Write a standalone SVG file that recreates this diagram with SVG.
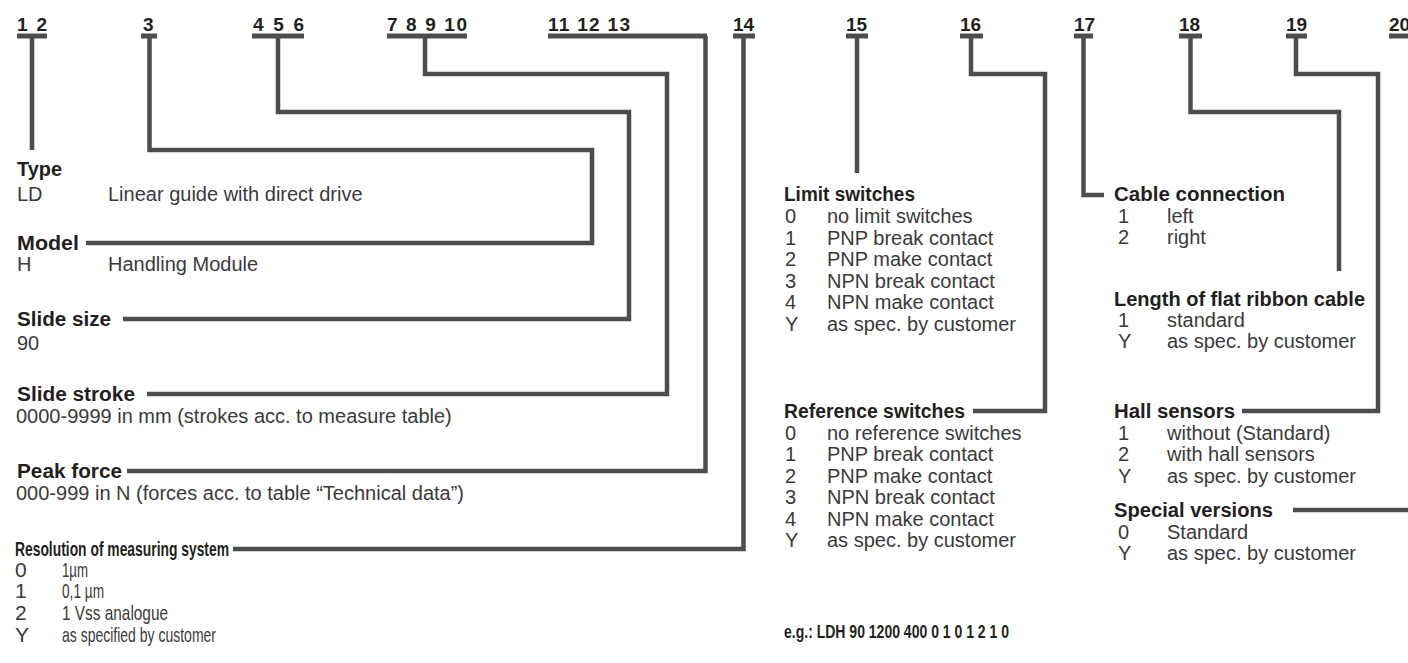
<svg xmlns="http://www.w3.org/2000/svg" width="1408" height="663" viewBox="0 0 1408 663">
<style>
.num{font-family:"Liberation Sans",Arial,sans-serif;font-weight:bold;font-size:19px;fill:#231f20}
.h{font-family:"Liberation Sans",Arial,sans-serif;font-weight:bold;font-size:20px;fill:#231f20}
.t{font-family:"Liberation Sans",Arial,sans-serif;font-size:20px;fill:#3a3a3a}
.c{font-family:"Liberation Sans",Arial,sans-serif;font-size:21px;fill:#3a3a3a}
.bar{stroke:#4d4d4d;stroke-width:5;fill:none}
.ln{stroke:#4d4d4d;stroke-width:4.5;fill:none;stroke-linejoin:miter;stroke-linecap:butt}
</style>
<rect width="1408" height="663" fill="#ffffff"/>

<g id="pos-1-2"><text class="num" x="17" y="31" textLength="30" lengthAdjust="spacing">1 2</text><line class="bar" x1="17" y1="36" x2="47" y2="36"/></g>
<g id="pos-3"><text class="num" x="143" y="31">3</text><line class="bar" x1="141" y1="36" x2="157" y2="36"/></g>
<g id="pos-4-5-6"><text class="num" x="253" y="31" textLength="51" lengthAdjust="spacing">4 5 6</text><line class="bar" x1="252" y1="36" x2="304" y2="36"/></g>
<g id="pos-7-10"><text class="num" x="387" y="31" textLength="80" lengthAdjust="spacing">7 8 9 10</text><line class="bar" x1="387" y1="36" x2="467" y2="36"/></g>
<g id="pos-11-13"><text class="num" x="548" y="31" textLength="82" lengthAdjust="spacing">11 12 13</text><line class="bar" x1="548" y1="36" x2="707" y2="36"/></g>
<g id="pos-14"><text class="num" x="733" y="31">14</text><line class="bar" x1="733" y1="36" x2="755" y2="36"/></g>
<g id="pos-15"><text class="num" x="846" y="31">15</text><line class="bar" x1="846" y1="36" x2="868" y2="36"/></g>
<g id="pos-16"><text class="num" x="960" y="31">16</text><line class="bar" x1="960" y1="36" x2="983" y2="36"/></g>
<g id="pos-17"><text class="num" x="1074" y="31">17</text><line class="bar" x1="1074" y1="36" x2="1093" y2="36"/></g>
<g id="pos-18"><text class="num" x="1179" y="31">18</text><line class="bar" x1="1179" y1="36" x2="1202" y2="36"/></g>
<g id="pos-19"><text class="num" x="1286" y="31">19</text><line class="bar" x1="1286" y1="36" x2="1307" y2="36"/></g>
<g id="pos-20"><text class="num" x="1389" y="31">20</text><line class="bar" x1="1389" y1="36" x2="1408" y2="36"/></g>

<g id="connectors">
<path class="ln" d="M32 36 V150"/>
<path class="ln" d="M149.5 36 V150 H592 V243 H86"/>
<path class="ln" d="M278 36 V112 H629 V319 H123"/>
<path class="ln" d="M425 36 V74 H667 V394 H147"/>
<path class="ln" d="M705.5 36 V471 H127"/>
<path class="ln" d="M743.5 36 V549 H233"/>
<path class="ln" d="M857 36 V173"/>
<path class="ln" d="M971 36 V74 H1045 V411 H973"/>
<path class="ln" d="M1083.5 36 V195 H1104"/>
<path class="ln" d="M1190.5 36 V112 H1339 V271"/>
<path class="ln" d="M1296 36 V74 H1378 V411 H1242"/>
<path class="ln" d="M1293 510 H1408"/>
</g>

<g id="type">
<text class="h" x="17" y="176" textLength="45" lengthAdjust="spacingAndGlyphs">Type</text>
<text class="t" x="17" y="201">LD</text><text class="t" x="108" y="201">Linear guide with direct drive</text>
</g>
<g id="model">
<text class="h" x="17" y="250" textLength="62" lengthAdjust="spacingAndGlyphs">Model</text>
<text class="t" x="17" y="271">H</text><text class="t" x="108" y="271">Handling Module</text>
</g>
<g id="slide-size">
<text class="h" x="17" y="326" textLength="94" lengthAdjust="spacingAndGlyphs">Slide size</text>
<text class="t" x="17" y="350">90</text>
</g>
<g id="slide-stroke">
<text class="h" x="17" y="401" textLength="118" lengthAdjust="spacingAndGlyphs">Slide stroke</text>
<text class="t" x="16" y="423">0000-9999 in mm (strokes acc. to measure table)</text>
</g>
<g id="peak-force">
<text class="h" x="17" y="478" textLength="105" lengthAdjust="spacingAndGlyphs">Peak force</text>
<text class="t" x="16" y="500">000-999 in N (forces acc. to table “Technical data”)</text>
</g>
<g id="resolution">
<text class="h" x="15" y="556" style="font-size:21px" textLength="214" lengthAdjust="spacingAndGlyphs">Resolution of measuring system</text>
<text class="c" x="15" y="577">0</text><text class="c" x="62" y="577" textLength="26" lengthAdjust="spacingAndGlyphs">1µm</text>
<text class="c" x="15" y="598">1</text><text class="c" x="62" y="598" textLength="42" lengthAdjust="spacingAndGlyphs">0,1 µm</text>
<text class="c" x="15" y="620">2</text><text class="c" x="62" y="620" textLength="106" lengthAdjust="spacingAndGlyphs">1 Vss analogue</text>
<text class="c" x="15" y="642">Y</text><text class="c" x="62" y="642" textLength="154" lengthAdjust="spacingAndGlyphs">as specified by customer</text>
</g>

<g id="limit-switches">
<text class="h" x="784" y="201" textLength="131" lengthAdjust="spacingAndGlyphs">Limit switches</text>
<text class="t" x="785" y="223">0</text><text class="t" x="827" y="223">no limit switches</text>
<text class="t" x="785" y="245">1</text><text class="t" x="827" y="245">PNP break contact</text>
<text class="t" x="785" y="266">2</text><text class="t" x="827" y="266">PNP make contact</text>
<text class="t" x="785" y="288">3</text><text class="t" x="827" y="288">NPN break contact</text>
<text class="t" x="785" y="309">4</text><text class="t" x="827" y="309">NPN make contact</text>
<text class="t" x="785" y="331">Y</text><text class="t" x="827" y="331">as spec. by customer</text>
</g>
<g id="reference-switches">
<text class="h" x="784" y="418" textLength="181" lengthAdjust="spacingAndGlyphs">Reference switches</text>
<text class="t" x="785" y="440">0</text><text class="t" x="827" y="440">no reference switches</text>
<text class="t" x="785" y="461">1</text><text class="t" x="827" y="461">PNP break contact</text>
<text class="t" x="785" y="483">2</text><text class="t" x="827" y="483">PNP make contact</text>
<text class="t" x="785" y="504">3</text><text class="t" x="827" y="504">NPN break contact</text>
<text class="t" x="785" y="526">4</text><text class="t" x="827" y="526">NPN make contact</text>
<text class="t" x="785" y="547">Y</text><text class="t" x="827" y="547">as spec. by customer</text>
</g>
<g id="example">
<text class="h" x="784" y="638" style="font-size:18px" textLength="225" lengthAdjust="spacingAndGlyphs">e.g.: LDH 90 1200 400 0 1 0 1 2 1 0</text>
</g>

<g id="cable-connection">
<text class="h" x="1114" y="201" textLength="171" lengthAdjust="spacingAndGlyphs">Cable connection</text>
<text class="t" x="1118" y="223">1</text><text class="t" x="1167" y="223">left</text>
<text class="t" x="1118" y="244">2</text><text class="t" x="1167" y="244">right</text>
</g>
<g id="cable-length">
<text class="h" x="1114" y="306" textLength="251" lengthAdjust="spacingAndGlyphs">Length of flat ribbon cable</text>
<text class="t" x="1118" y="327">1</text><text class="t" x="1167" y="327">standard</text>
<text class="t" x="1118" y="348">Y</text><text class="t" x="1167" y="348">as spec. by customer</text>
</g>
<g id="hall-sensors">
<text class="h" x="1114" y="418" textLength="121" lengthAdjust="spacingAndGlyphs">Hall sensors</text>
<text class="t" x="1118" y="440">1</text><text class="t" x="1167" y="440">without (Standard)</text>
<text class="t" x="1118" y="461">2</text><text class="t" x="1167" y="461">with hall sensors</text>
<text class="t" x="1118" y="483">Y</text><text class="t" x="1167" y="483">as spec. by customer</text>
</g>
<g id="special-versions">
<text class="h" x="1114" y="517" textLength="159" lengthAdjust="spacingAndGlyphs">Special versions</text>
<text class="t" x="1118" y="539">0</text><text class="t" x="1167" y="539">Standard</text>
<text class="t" x="1118" y="560">Y</text><text class="t" x="1167" y="560">as spec. by customer</text>
</g>
</svg>
